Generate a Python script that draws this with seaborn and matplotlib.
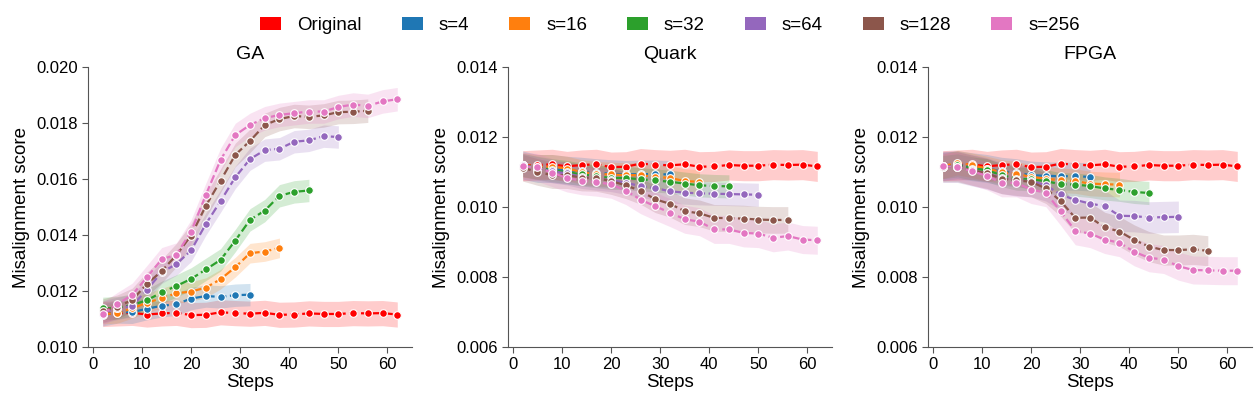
import numpy as np
import pandas as pd
import matplotlib
matplotlib.use("Agg")
import matplotlib.pyplot as plt
from matplotlib.patches import Patch
import seaborn as sns

sns.set_style("ticks")
plt.rcParams["font.family"] = ["Liberation Sans", "DejaVu Sans"]
plt.rcParams["text.color"] = "black"
plt.rcParams["axes.labelcolor"] = "black"

steps = [2, 5, 8, 11, 14, 17, 20, 23, 26, 29, 32, 35, 38, 41, 44, 47, 50, 53, 56, 59, 62]
series_names = ["Original", "s=4", "s=16", "s=32", "s=64", "s=128", "s=256"]
colors = ["#ff0000", "#1f77b4", "#ff7f0e", "#2ca02c", "#9467bd", "#8c564b", "#e377c2"]
panel_titles = ["GA", "Quark", "FPGA"]

original = [0.01118, 0.01120, 0.01122, 0.01116, 0.01120, 0.01122, 0.01114, 0.01115, 0.01124, 0.01121,
            0.01119, 0.01122, 0.01115, 0.01116, 0.01120, 0.01118, 0.01118, 0.01121, 0.01120, 0.01121, 0.01116]

ga_s4 = [0.01115, 0.01125, 0.01124, 0.01137, 0.01147, 0.01153, 0.01173, 0.01182, 0.01179, 0.01185, 0.01187]
ga_s16 = [0.01118, 0.01120, 0.01138, 0.01158, 0.01174, 0.01192, 0.01198, 0.01212, 0.01242, 0.01285,
          0.01335, 0.01341, 0.01354]
ga_s32 = [0.01138, 0.01140, 0.01150, 0.01167, 0.01195, 0.01218, 0.01243, 0.01277, 0.01311, 0.01380,
          0.01454, 0.01487, 0.01540, 0.01554, 0.01559]
ga_s64 = [0.01125, 0.01138, 0.01147, 0.01204, 0.01267, 0.01296, 0.01345, 0.01439, 0.01521, 0.01606,
          0.01671, 0.01703, 0.01708, 0.01733, 0.01738, 0.01753, 0.01750]
ga_s128 = [0.01130, 0.01144, 0.01168, 0.01225, 0.01271, 0.01328, 0.01398, 0.01504, 0.01594, 0.01686,
           0.01736, 0.01793, 0.01814, 0.01825, 0.01822, 0.01827, 0.01839, 0.01840, 0.01844]
ga_s256 = [0.01118, 0.01153, 0.01186, 0.01249, 0.01313, 0.01330, 0.01412, 0.01543, 0.01668, 0.01757,
           0.01793, 0.01817, 0.01829, 0.01835, 0.01841, 0.01841, 0.01857, 0.01866, 0.01861, 0.01877, 0.01885]

quark_s4 = [0.01120, 0.01110, 0.01110, 0.01105, 0.01102, 0.01098, 0.01095, 0.01093, 0.01094, 0.01094, 0.01093]
quark_s16 = [0.01120, 0.01115, 0.01115, 0.01110, 0.01100, 0.01095, 0.01093, 0.01091, 0.01091, 0.01086,
             0.01083, 0.01074, 0.01072]
quark_s32 = [0.01120, 0.01112, 0.01105, 0.01100, 0.01093, 0.01088, 0.01083, 0.01083, 0.01079, 0.01076,
             0.01072, 0.01067, 0.01062, 0.01060, 0.01059]
quark_s64 = [0.01120, 0.01110, 0.01102, 0.01096, 0.01086, 0.01081, 0.01077, 0.01069, 0.01060, 0.01054,
             0.01045, 0.01041, 0.01039, 0.01038, 0.01037, 0.01036, 0.01035]
quark_s128 = [0.01112, 0.01100, 0.01091, 0.01091, 0.01084, 0.01083, 0.01074, 0.01062, 0.01046, 0.01022,
              0.01009, 0.00988, 0.00982, 0.00969, 0.00968, 0.00967, 0.00964, 0.00963, 0.00963]
quark_s256 = [0.01116, 0.01113, 0.01098, 0.01083, 0.01075, 0.01071, 0.01065, 0.01047, 0.01021, 0.01002,
              0.00984, 0.00965, 0.00958, 0.00936, 0.00936, 0.00926, 0.00924, 0.00912, 0.00917, 0.00907, 0.00905]

fpga_s4 = [0.01116, 0.01121, 0.01115, 0.01110, 0.01102, 0.01098, 0.01091, 0.01089, 0.01088, 0.01088, 0.01086]
fpga_s16 = [0.01116, 0.01127, 0.01119, 0.01110, 0.01100, 0.01095, 0.01086, 0.01081, 0.01076, 0.01074,
            0.01067, 0.01065, 0.01064]
fpga_s32 = [0.01114, 0.01119, 0.01110, 0.01105, 0.01091, 0.01081, 0.01079, 0.01074, 0.01065, 0.01064,
            0.01060, 0.01053, 0.01049, 0.01043, 0.01040]
fpga_s64 = [0.01115, 0.01115, 0.01105, 0.01096, 0.01083, 0.01076, 0.01074, 0.01062, 0.01036, 0.01020,
            0.01010, 0.01002, 0.00975, 0.00974, 0.00970, 0.00971, 0.00972]
fpga_s128 = [0.01115, 0.01115, 0.01105, 0.01096, 0.01081, 0.01076, 0.01072, 0.01053, 0.01017, 0.00969,
             0.00970, 0.00942, 0.00930, 0.00906, 0.00887, 0.00877, 0.00877, 0.00879, 0.00875]
fpga_s256 = [0.01116, 0.01115, 0.01102, 0.01089, 0.01069, 0.01069, 0.01050, 0.01041, 0.00988, 0.00932,
             0.00924, 0.00907, 0.00898, 0.00872, 0.00855, 0.00850, 0.00831, 0.00820, 0.00819, 0.00818, 0.00818]

# half-width of the shaded band per series (Original, s=4 ... s=256)
ga_band = [0.00045, 0.00040, 0.00035, 0.00040, 0.00040, 0.00042, 0.00042]
quark_band = [0.00043, 0.00040, 0.00035, 0.00033, 0.00033, 0.00038, 0.00040]
fpga_band = [0.00043, 0.00040, 0.00035, 0.00033, 0.00045, 0.00043, 0.00040]

panels = [
    [original, ga_s4, ga_s16, ga_s32, ga_s64, ga_s128, ga_s256],
    [original, quark_s4, quark_s16, quark_s32, quark_s64, quark_s128, quark_s256],
    [original, fpga_s4, fpga_s16, fpga_s32, fpga_s64, fpga_s128, fpga_s256],
]
bands = [ga_band, quark_band, fpga_band]
ylims = [(0.010, 0.020), (0.006, 0.014), (0.006, 0.014)]

fig = plt.figure(figsize=(12.55, 3.95), dpi=100)
ax_lefts = [88 / 1255, 508 / 1255, 928 / 1255]
for p, (vals_list, band, ylim, title) in enumerate(zip(panels, bands, ylims, panel_titles)):
    ax = fig.add_axes([ax_lefts[p], 48 / 395, 324 / 1255, 280 / 395])
    for name, vals, hw, col in zip(series_names, vals_list, band, colors):
        n = len(vals)
        xs = steps[:n]
        df = pd.DataFrame({
            "Steps": list(xs) * 2,
            "score": [v - hw for v in vals] + [v + hw for v in vals],
        })
        sns.lineplot(data=df, x="Steps", y="score", ax=ax, color=col,
                     errorbar=("pi", 100), estimator="mean",
                     linestyle="--", linewidth=1.6, marker="o", markersize=5.5,
                     markeredgecolor="white", markeredgewidth=0.8,
                     err_kws={"alpha": 0.2, "linewidth": 0})
    ax.set_ylim(*ylim)
    ax.set_yticks(np.arange(ylim[0], ylim[1] + 1e-9, 0.002))
    ax.yaxis.set_major_formatter(matplotlib.ticker.FormatStrFormatter("%.3f"))
    ax.set_xticks([0, 10, 20, 30, 40, 50, 60])
    ax.set_xlim(-1, 65)
    ax.set_title(title, fontsize=14, pad=6, color="black")
    ax.set_xlabel("Steps", fontsize=13.5, labelpad=1)
    ax.set_ylabel("Misalignment score", fontsize=13.5)
    ax.tick_params(labelsize=12, length=4, color="#555555", labelcolor="black")
    for s in ["left", "bottom"]:
        ax.spines[s].set_color("#555555")
    sns.despine(ax=ax)

handles = [Patch(facecolor=c, edgecolor="none") for c in colors]
fig.legend(handles, series_names, loc="upper center", bbox_to_anchor=(670 / 1255, 1.0),
           ncol=7, frameon=False, fontsize=13.5, handlelength=1.12, handleheight=0.65,
           columnspacing=2.13, handletextpad=0.85, labelcolor="black")

fig.savefig("out.png", dpi=100)
